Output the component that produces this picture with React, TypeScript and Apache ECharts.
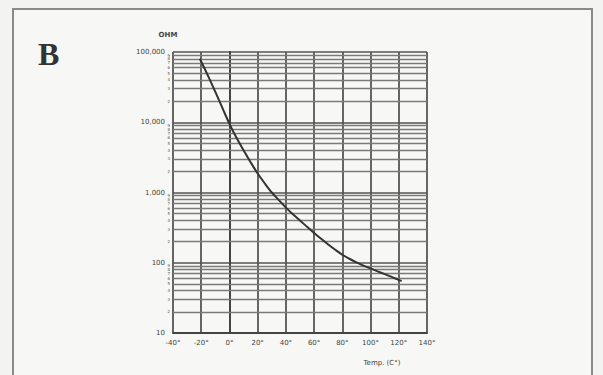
import React, { useEffect, useRef } from "react";
import * as echarts from "echarts";

const temps = [-21, -15, -10, -5, 0, 5, 10, 15, 20, 25, 30, 35, 40, 45, 50, 55, 60, 65, 70, 75, 80, 85, 90, 95, 100, 105, 110, 115, 120, 122];
const ohms = [80000, 45000, 27000, 16000, 9500, 6000, 4000, 2700, 1860, 1350, 1000, 780, 610, 490, 400, 325, 266, 219, 182, 153, 130, 114, 101, 91, 83, 75.5, 69, 63, 57, 55];
const decades = [10, 100, 1000, 10000];
const multipliers = [2, 3, 4, 5, 6, 7, 8, 9];
const yLabels: Record<number, string> = { 10: "10", 100: "100", 1000: "1,000", 10000: "10,000", 100000: "100,000" };

export default function App() {
  const ref = useRef<HTMLDivElement>(null);
  useEffect(() => {
    const chart = echarts.init(ref.current!, null, { renderer: "svg" });
    const minorLines: any[] = [];
    decades.forEach((d) =>
      multipliers.forEach((m) =>
        minorLines.push({ yAxis: d * m, label: { formatter: String(m) } })
      )
    );
    const font = "DejaVu Sans";
    chart.setOption({
      animation: false,
      backgroundColor: "#f3f3f1",
      grid: { left: 173, top: 52, width: 254, height: 281 },
      xAxis: {
        type: "value",
        min: -40,
        max: 140,
        interval: 20,
        axisLine: { show: true, lineStyle: { color: "#444", width: 2 } },
        axisTick: { show: false },
        axisLabel: {
          color: "#444",
          fontSize: 7,
          fontFamily: font,
          margin: 6,
          formatter: (v: number) => v + "°",
        },
        splitLine: { show: true, lineStyle: { color: "#555", width: 1.8 } },
      },
      yAxis: {
        type: "log",
        logBase: 10,
        min: 10,
        max: 100000,
        axisLine: { show: true, lineStyle: { color: "#444", width: 2 } },
        axisTick: { show: false },
        axisLabel: {
          color: "#444",
          fontSize: 7,
          fontFamily: font,
          margin: 8,
          formatter: (v: number) => yLabels[Math.round(v)] ?? String(v),
        },
        splitLine: { show: true, lineStyle: { color: "#555", width: 1.6 } },
      },
      graphic: [
        {
          type: "rect",
          shape: { x: 13, y: 9, width: 579, height: 380 },
          style: { fill: "#f7f7f5", stroke: "#8a8a8a", lineWidth: 2 },
          z: -10,
        },
        {
          type: "text",
          left: 38,
          top: 38,
          style: { text: "B", font: "bold 32px 'Liberation Serif'", fill: "#333" },
        },
        {
          type: "text",
          x: 168,
          y: 35,
          style: { text: "OHM", font: "bold 7px 'DejaVu Sans'", fill: "#444", align: "center", verticalAlign: "middle" },
        },
        {
          type: "text",
          x: 382,
          y: 363,
          style: { text: "Temp. (C°)", font: "7px 'DejaVu Sans'", fill: "#444", align: "center", verticalAlign: "middle" },
        },
      ],
      series: [
        {
          type: "line",
          data: temps.map((t, i) => [t, ohms[i]]),
          smooth: 0.3,
          showSymbol: false,
          lineStyle: { color: "#333", width: 2 },
          z: 5,
          markLine: {
            silent: true,
            symbol: ["none", "none"],
            lineStyle: { color: "#7a7a7a", width: 1.3, type: "solid" },
            label: {
              position: "start",
              distance: 3,
              fontSize: 4,
              color: "#555",
              fontFamily: font,
            },
            data: minorLines,
            z: 1,
          },
        },
      ],
    });
    return () => chart.dispose();
  }, []);
  return (
    <div
      ref={ref}
      style={{ position: "fixed", left: 0, top: 0, width: 603, height: 375 }}
    />
  );
}
